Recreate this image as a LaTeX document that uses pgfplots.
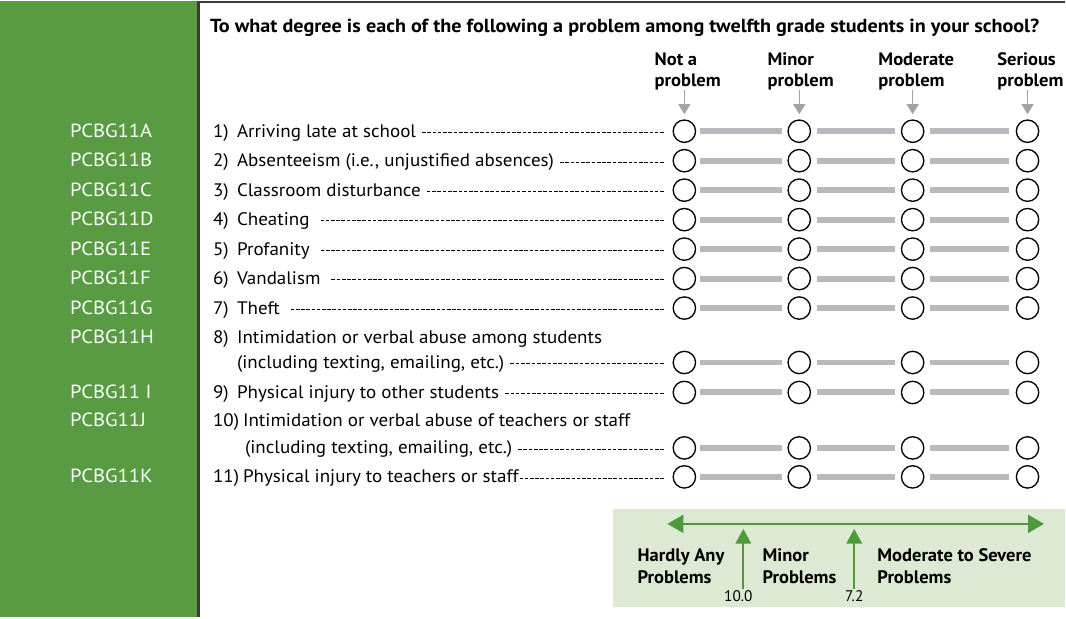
\documentclass[border=0pt]{standalone}
\usepackage{pgfplots}
\pgfplotsset{compat=1.18}
\usepackage{fontspec}
\setmainfont{PT Sans}
\usepackage{graphicx}
\usetikzlibrary{arrows.meta}

\definecolor{panelgreen}{HTML}{589B42}
\definecolor{boxgreen}{HTML}{DEE9D4}
\definecolor{arrgreen}{HTML}{4E9A3A}
\definecolor{bargray}{HTML}{B9B9BD}
\definecolor{hdrgray}{HTML}{A3A3A5}
\definecolor{bordergray}{HTML}{3A3A3A}

\newcommand{\itemfont}{\fontsize{13.6}{15}\selectfont}
\newcommand{\sx}[1]{\scalebox{1.05}[1]{#1}}
\newcommand{\dashfill}{\xleaders\hbox to 3.9pt{\hss\rule[3.1pt]{2.7pt}{0.75pt}\hss}\hfill}
% \itemline{y-baseline}{x start}{width pt}{text}
\newcommand{\itemline}[4]{\node[anchor=base west, inner sep=0] at (axis cs:#2,#1) {\makebox[#3][l]{\itemfont\sx{#4}\dashfill}};}
\newcommand{\itemplain}[3]{\node[anchor=base west, inner sep=0] at (axis cs:#2,#1) {\itemfont\sx{#3}};}
\newcommand{\num}[2]{\node[anchor=base west, inner sep=0] at (axis cs:213,#1) {\itemfont\sx{#2}};}
\newcommand{\code}[2]{\node[anchor=base west, inner sep=0, text=white] at (axis cs:70,#1) {\fontsize{14.3}{15}\selectfont\scalebox{1.08}[1]{#2}};}
\newcommand{\hdr}[3]{\node[anchor=base west, inner sep=0] at (axis cs:#1,#2) {\bfseries\fontsize{13.5}{14}\selectfont\scalebox{1.03}[1]{#3}};}
\newcommand{\leg}[3]{\node[anchor=base west, inner sep=0] at (axis cs:#1,#2) {\bfseries\fontsize{13.6}{14}\selectfont\scalebox{1.02}[1]{#3}};}

\begin{document}
\begin{tikzpicture}
\begin{axis}[
  width=799.5pt, height=462pt, scale only axis,
  xmin=0, xmax=1066, ymin=0, ymax=616, y dir=reverse,
  hide axis, clip=false,
]
% background panels
\fill[panelgreen] (axis cs:0,0) rectangle (axis cs:197,616);
\fill[boxgreen] (axis cs:614,508) rectangle (axis cs:1066,606);
\draw[bordergray, line width=1.5pt] (axis cs:197,1) -- (axis cs:1066,1);
\draw[bordergray, line width=2pt] (axis cs:198.5,0) -- (axis cs:198.5,616);

% title
\node[anchor=base west, inner sep=0] at (axis cs:210,31) {\resizebox{622.5pt}{\height}{\bfseries\fontsize{14.2}{16}\selectfont To what degree is each of the following a problem among twelfth grade students in your school?}};

% column headers
\hdr{655}{64}{Not a}
\hdr{655}{85}{problem}
\hdr{768}{64}{Minor}
\hdr{768}{85}{problem}
\hdr{879}{64}{Moderate}
\hdr{879}{85}{problem}
\hdr{998}{64}{Serious}
\hdr{998}{85}{problem}
\pgfplotsinvokeforeach{685,800,913.5,1028.5}{
  \draw[hdrgray, line width=0.9pt, -{Triangle[length=7.5pt,width=9pt]}] (axis cs:#1,89) -- (axis cs:#1,113);
}

% codes
\code{136}{PCBG11A}
\code{165.5}{PCBG11B}
\code{195}{PCBG11C}
\code{224.5}{PCBG11D}
\code{254}{PCBG11E}
\code{283.5}{PCBG11F}
\code{313}{PCBG11G}
\code{342.5}{PCBG11H}
\code{397.5}{PCBG11 I}
\code{426}{PCBG11J}
\code{482}{PCBG11K}

% items
\num{136}{1)}   \itemline{136}{237}{321pt}{Arriving late at school\ }
\num{165.5}{2)} \itemline{165.5}{237}{321pt}{Absenteeism (i.e., unjustified absences)\ }
\num{195}{3)}   \itemline{195}{237}{321pt}{Classroom disturbance\ }
\num{224.5}{4)} \itemline{224.5}{237}{321pt}{Cheating\ \ }
\num{254}{5)}   \itemline{254}{237}{321pt}{Profanity\ \ }
\num{283.5}{6)} \itemline{283.5}{237}{321pt}{Vandalism\ \ }
\num{313}{7)}   \itemline{313}{237}{321pt}{Theft\ \ }
\num{342.5}{8)} \itemplain{342.5}{237}{Intimidation or verbal abuse among students}
\itemline{367.5}{237}{321pt}{(including texting, emailing, etc.)\ }
\num{397.5}{9)} \itemline{397.5}{237}{321pt}{Physical injury to other students\ }
\num{426}{10)}  \itemplain{426}{243}{Intimidation or verbal abuse of teachers or staff}
\itemline{453}{245}{315pt}{(including texting, emailing, etc.)\ }
\num{482}{11)}  \itemline{482}{243}{316.5pt}{Physical injury to teachers or staff}

% response scale: bars and circles
\pgfplotsinvokeforeach{130,159.5,189,218.5,248,277.5,307,361.5,391.5,447,476}{
  \addplot[bargray, line width=4.5pt, forget plot] coordinates {(701,#1) (783,#1)};
  \addplot[bargray, line width=4.5pt, forget plot] coordinates {(818,#1) (896,#1)};
  \addplot[bargray, line width=4.5pt, forget plot] coordinates {(931,#1) (1010,#1)};
  \addplot[only marks, mark=*, mark size=8.4pt, mark options={fill=white, draw=black, line width=1pt}, forget plot]
    coordinates {(685,#1) (800,#1) (913.5,#1) (1028.5,#1)};
}

% legend box arrows
\draw[arrgreen, line width=1.5pt, {Triangle[length=12pt,width=13.5pt]}-{Triangle[length=12pt,width=13.5pt]}] (axis cs:668,523) -- (axis cs:1045,523);
\draw[arrgreen, line width=1.5pt, -{Triangle[length=11pt,width=11.5pt]}] (axis cs:744,588) -- (axis cs:744,528);
\draw[arrgreen, line width=1.5pt, -{Triangle[length=11pt,width=11.5pt]}] (axis cs:855,588) -- (axis cs:855,528);

\leg{638}{561}{Hardly Any}
\leg{638}{583}{Problems}
\leg{763}{561}{Minor}
\leg{763}{583}{Problems}
\leg{878}{561}{Moderate to Severe}
\leg{878}{583}{Problems}
\node[anchor=base, inner sep=0] at (axis cs:739,601) {\fontsize{11.5}{12}\selectfont 10.0};
\node[anchor=base, inner sep=0] at (axis cs:855,601) {\fontsize{11.5}{12}\selectfont 7.2};
\end{axis}
\end{tikzpicture}
\end{document}
